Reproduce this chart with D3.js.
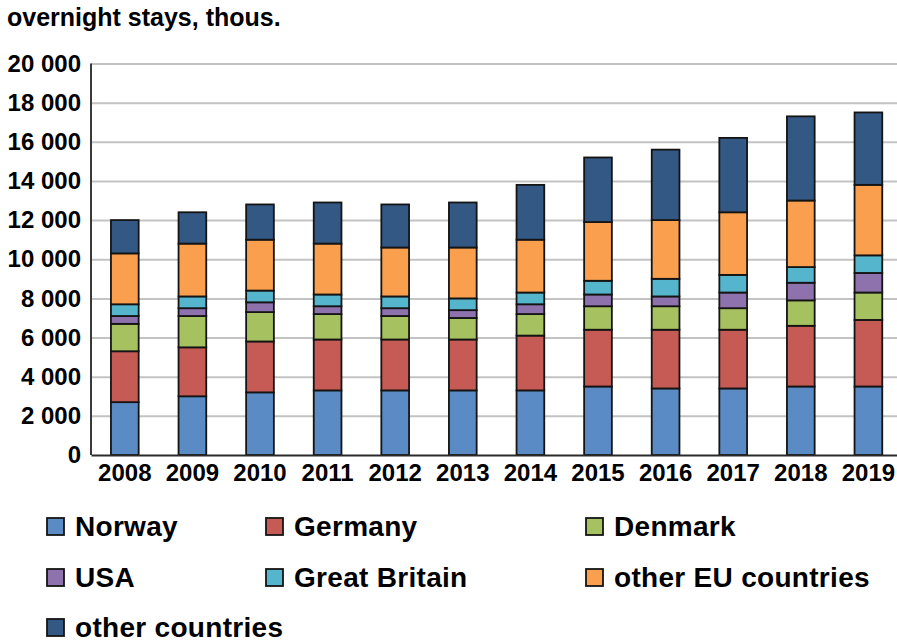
<!DOCTYPE html>
<html>
<head>
<meta charset="utf-8">
<script src="https://cdn.jsdelivr.net/npm/d3@7"></script>
<style>
    body { margin: 0; background: #fff; }
    text { font-family: "Liberation Sans", Arial, sans-serif; font-weight: bold; fill: #000; }
</style>
</head>
<body>
<div id="chart"></div>
<script>
//data (thousands of overnight stays)
const years = ["2008", "2009", "2010", "2011", "2012", "2013", "2014", "2015", "2016", "2017", "2018", "2019"];
const norway = [2700, 3000, 3200, 3300, 3300, 3300, 3300, 3500, 3400, 3400, 3500, 3500];
const germany = [2600, 2500, 2600, 2600, 2600, 2600, 2800, 2900, 3000, 3000, 3100, 3400];
const denmark = [1400, 1600, 1500, 1300, 1200, 1100, 1100, 1200, 1200, 1100, 1300, 1400];
const usa = [400, 400, 500, 400, 400, 400, 500, 600, 500, 800, 900, 1000];
const greatBritain = [600, 600, 600, 600, 600, 600, 600, 700, 900, 900, 800, 900];
const otherEU = [2600, 2700, 2600, 2600, 2500, 2600, 2700, 3000, 3000, 3200, 3400, 3600];
const otherCountries = [1700, 1600, 1800, 2100, 2200, 2300, 2800, 3300, 3600, 3800, 4300, 3700];
const yTicks = [0, 2000, 4000, 6000, 8000, 10000, 12000, 14000, 16000, 18000, 20000];

const seriesNames = ["Norway", "Germany", "Denmark", "USA", "Great Britain", "other EU countries", "other countries"];
const seriesValues = [norway, germany, denmark, usa, greatBritain, otherEU, otherCountries];
const colors = ["#5b8bc5", "#c65a55", "#a6c260", "#8d72ae", "#55b5cd", "#f99f4e", "#345884"];

//table for d3.stack
const table = years.map((y, i) => {
    const row = { year: y };
    seriesNames.forEach((s, j) => row[s] = seriesValues[j][i]);
    return row;
});

//dimensions
const w = 897, h = 642;
const plotLeft = 91, plotBottom = 455, plotTop = 63.5, step = 67.6;

const svg = d3.select("#chart")
    .append("svg")
    .attr("width", w)
    .attr("height", h);

//scales
const xScale = d3.scaleBand()
    .domain(years)
    .range([plotLeft, plotLeft + step * years.length])
    .paddingInner(0.59)
    .paddingOuter(0.295);
const yScale = d3.scaleLinear().domain([0, 20000]).range([plotBottom, plotTop]);

//title
svg.append("text")
    .text("overnight stays, thous.")
    .attr("x", 7)
    .attr("y", 26)
    .attr("font-size", "25px");

//grid lines
const grid = svg.append("g")
    .attr("class", "grid")
    .attr("transform", `translate(${plotLeft},0)`)
    .call(d3.axisLeft(yScale).tickValues(yTicks.slice(1)).tickSize(-(w - plotLeft)).tickFormat(""));
grid.select(".domain").remove();
grid.selectAll("line").attr("stroke", "#c3c3c3").attr("stroke-width", 2);

//y axis labels
const fmt = d => d3.format(",")(d).replace(/,/g, " ");
const ygrp = svg.append("g")
    .attr("transform", `translate(${plotLeft},0)`)
    .call(d3.axisLeft(yScale).tickValues(yTicks).tickSize(0).tickPadding(10).tickFormat(fmt));
ygrp.select(".domain").remove();
ygrp.selectAll("text")
    .attr("font-size", "24px")
    .attr("font-family", "Liberation Sans, Arial, sans-serif")
    .attr("font-weight", "bold")
    .attr("fill", "#000");

//stacked bars
const stack = d3.stack().keys(seriesNames)(table);
svg.append("g")
    .selectAll("g")
    .data(stack)
    .join("g")
    .attr("fill", (d, i) => colors[i])
    .selectAll("rect")
    .data(d => d)
    .join("rect")
    .attr("x", d => xScale(d.data.year))
    .attr("y", d => yScale(d[1]))
    .attr("width", xScale.bandwidth())
    .attr("height", d => yScale(d[0]) - yScale(d[1]))
    .attr("stroke", "#141414")
    .attr("stroke-width", 1.8);

//axis lines
svg.append("line")
    .attr("x1", plotLeft).attr("x2", plotLeft)
    .attr("y1", plotTop).attr("y2", plotBottom)
    .attr("stroke", "#3a3a3a").attr("stroke-width", 2);

//x axis
const xgrp = svg.append("g")
    .attr("transform", `translate(0,${plotBottom})`)
    .call(d3.axisBottom(xScale).tickSize(0).tickPadding(9));
xgrp.select(".domain").attr("stroke", "#2a2a2a").attr("stroke-width", 2);
xgrp.selectAll("text")
    .attr("font-size", "24px")
    .attr("font-family", "Liberation Sans, Arial, sans-serif")
    .attr("font-weight", "bold")
    .attr("fill", "#000");

//legend
const legendX = [47, 266, 586];
const legendY = [536, 587, 637];
const legend = svg.append("g")
    .selectAll("g")
    .data(seriesNames)
    .join("g")
    .attr("transform", (d, i) => `translate(${legendX[i % 3]},${legendY[Math.floor(i / 3)]})`);
legend.append("rect")
    .attr("x", 0)
    .attr("y", -18)
    .attr("width", 17)
    .attr("height", 17)
    .attr("fill", (d, i) => colors[i])
    .attr("stroke", "#141414")
    .attr("stroke-width", 1.8);
legend.append("text")
    .text(d => d)
    .attr("x", 28)
    .attr("y", 0)
    .attr("font-size", "28px")
    .attr("letter-spacing", "0.3px");
</script>
</body>
</html>
